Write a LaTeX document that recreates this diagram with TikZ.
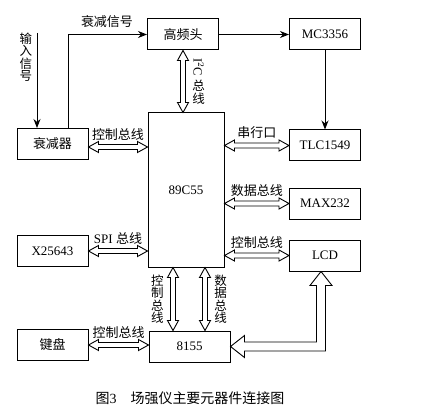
\documentclass[tikz,border=0pt]{standalone}
\usepackage{fontspec}
\setmainfont{Liberation Serif}
\newfontfamily\cjk{Noto Sans CJK SC}
\usetikzlibrary{arrows.meta,positioning,calc}

\newcommand{\zh}[1]{{\cjk #1}}
\newcommand{\busHead}{10pt}
\newcommand{\busHalf}{5.5pt}
\newcommand{\busShaft}{2.5pt}

% horizontal hollow bus arrow, left to right, label above
\newcommand{\busH}[3]{%
  \draw[bus] let \p1=(#1), \p2=(#2) in
    (\x1,\y1) -- (\x1+\busHead,\y1+\busHalf) -- (\x1+\busHead,\y1+\busShaft)
    -- (\x2-\busHead,\y1+\busShaft) -- (\x2-\busHead,\y1+\busHalf) -- (\x2,\y1)
    -- (\x2-\busHead,\y1-\busHalf) -- (\x2-\busHead,\y1-\busShaft)
    -- (\x1+\busHead,\y1-\busShaft) -- (\x1+\busHead,\y1-\busHalf) -- cycle
    ({(\x1+\x2)/2},{\y1+\busHalf}) node[above, lbl] {#3};}

% vertical hollow bus arrow, top to bottom, label at the side
\newcommand{\busV}[4][right]{%
  \draw[bus] let \p1=(#2), \p2=(#3) in
    (\x1,\y1) -- (\x1+\busHalf,\y1-\busHead) -- (\x1+\busShaft,\y1-\busHead)
    -- (\x1+\busShaft,\y2+\busHead) -- (\x1+\busHalf,\y2+\busHead) -- (\x1,\y2)
    -- (\x1-\busHalf,\y2+\busHead) -- (\x1-\busShaft,\y2+\busHead)
    -- (\x1-\busShaft,\y1-\busHead) -- (\x1-\busHalf,\y1-\busHead) -- cycle
    (\x1,{(\y1+\y2)/2}) node[#1=9pt, vlbl] {#4};}

\begin{document}
\begin{tikzpicture}[x=1pt, y=-1pt]
    \tikzstyle{block} = [rectangle, draw, line width=1pt, minimum width=71pt, minimum height=31pt, inner sep=2pt, font=\fontsize{13}{15}\selectfont]
    \tikzstyle{line} = [draw, line width=0.9pt, -{Stealth[length=9pt, width=7pt]}]
    \tikzstyle{bus} = [draw, line width=0.9pt, fill=white, line join=miter]
    \tikzstyle{lbl} = [inner sep=1pt, font=\fontsize{13}{15}\selectfont]
    \tikzstyle{vlbl} = [inner sep=0pt, align=center, font=\cjk\fontsize{12.5}{12.5}\selectfont]

    \useasboundingbox (0,0) rectangle (421,412);

    % blocks
    \node [block] (hfh) at (183,34.5) {\zh{高频头}};
    \node [block, right=70pt of hfh] (mc) {MC3356};
    \node [block, below=79pt of mc] (tlc) {TLC1549};
    \node [block, below=26pt of tlc] (max) {MAX232};
    \node [block, below=20pt of max] (lcd) {LCD};
    \node [block, minimum width=76pt, minimum height=154pt] (mcu) at (186,190) {89C55};
    \node [block] (att) at (52.5,144) {\zh{衰减器}};
    \node [block, below=75pt of att] (x25) {X25643};
    \node [block, below=62pt of x25] (key) {\zh{键盘}};
    \node [block, minimum width=81pt] (c8155) at (189.5,346.5) {8155};

    % signal path
    \coordinate (insig) at (37,33);
    \node [vlbl] (insiglbl) at (26,57) {输\\入\\信\\号};
    \path [line] (insig) -- (insig |- att.north);
    \coordinate (attout) at ($(att.north east)+(-20,0)$);
    \path [line] (attout) |- (hfh.west);
    \node [lbl] (attsiglbl) at (107,22) {\zh{衰减信号}};
    \path [line] (hfh.east) -- (hfh.east -| mc.west);
    \path [line] (mc.south) -- (tlc.north);

    % buses
    \busV[right]{hfh.south}{mcu.north}{\rotatebox{-90}{\rmfamily I$^2$C}\\[3pt]总\\线}
    \coordinate (a1) at ($(att.east)+(0,3)$);
    \busH{a1}{a1 -| mcu.west}{\zh{控制总线}}
    \busH{x25.east}{x25.east -| mcu.west}{SPI \zh{总线}}
    \busH{tlc.west -| mcu.east}{tlc.west}{\zh{串行口}}
    \busH{max.west -| mcu.east}{max.west}{\zh{数据总线}}
    \busH{lcd.west -| mcu.east}{lcd.west}{\zh{控制总线}}
    \coordinate (cb1) at ($(mcu.south)+(-13,0)$);
    \coordinate (cb2) at ($(mcu.south)+(19,0)$);
    \busV[left]{cb1}{cb1 |- c8155.north}{控\\制\\总\\线}
    \busV[right]{cb2}{cb2 |- c8155.north}{数\\据\\总\\线}
    \busH{key.east}{key.east -| c8155.west}{\zh{控制总线}}

    % wide bus from 8155 to LCD
    \coordinate (lcdin) at ($(lcd.south)+(-4,0)$);
    \draw [bus] let \p1=(c8155.east), \p2=(lcdin) in
        (\x1,\y1) -- (\x1+14pt,\y1+11pt) -- (\x1+14pt,\y1+4.5pt)
        -- (\x2-4.5pt,\y1+4.5pt) -- (\x2-4.5pt,\y2-14pt) -- (\x2-11pt,\y2-14pt)
        -- (\x2,\y2) -- (\x2+11pt,\y2-14pt) -- (\x2+4.5pt,\y2-14pt)
        -- (\x2+4.5pt,\y1-4.5pt) -- (\x1+14pt,\y1-4.5pt) -- (\x1+14pt,\y1-11pt) -- cycle;

    % caption
    \node [lbl, font=\fontsize{14}{16}\selectfont] (caption) at (190,398) {\zh{图}3\zh{　场强仪主要元器件连接图}};
\end{tikzpicture}
\end{document}
